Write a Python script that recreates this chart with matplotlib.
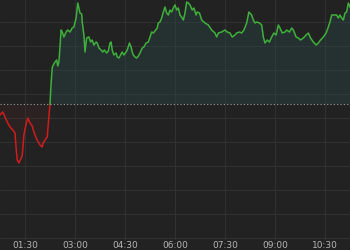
import numpy as np
import matplotlib
matplotlib.use("Agg")
import matplotlib.pyplot as plt

# minutes since midnight, index level
minutes = [45, 50, 58, 63, 68, 72, 74, 76, 79, 83, 85, 88, 92, 95, 99, 103, 106, 110, 113, 117,
           121, 122, 126, 130, 131, 133, 135,
           137, 139, 140, 144, 147, 149, 151, 153, 155, 157, 160, 164, 167, 171, 175, 178, 182, 185,
           189, 192, 193, 196, 198, 201, 205, 208, 211, 214, 218, 220, 223, 227, 230, 233, 237, 240,
           243, 245, 247, 250, 254, 256, 259, 262, 265, 268, 272, 274, 278, 281, 283, 285, 288, 291,
           294, 297, 301, 304, 308, 312, 315, 318, 321, 324, 328, 330, 333, 336, 339, 342, 345, 348,
           351, 354, 357, 360, 363, 366, 369, 373, 375, 378, 381, 384, 387, 391, 394, 398, 400, 404,
           408, 414, 420, 426, 432, 435, 438, 444, 450, 454, 459, 463, 468, 471, 476, 480, 484, 489,
           493, 498, 501, 504, 507, 512, 516, 519, 522, 526, 530, 534, 538, 542, 546, 549, 553, 558,
           561, 566, 570, 573, 578, 582, 586, 591, 596, 600, 604, 609, 614, 618, 622, 627, 632, 636,
           639, 642, 646, 651, 654, 657, 660, 663, 666, 669, 672, 675]
levels = [4885, 4888, 4878, 4873, 4870, 4867, 4852, 4840, 4837, 4842, 4844, 4865, 4876, 4882, 4877,
          4874, 4868, 4862, 4859, 4855, 4853, 4856, 4860, 4863, 4870, 4883, 4896,
          4917, 4932, 4934, 4938, 4940, 4934, 4938, 4953, 4970, 4968, 4963, 4968, 4970, 4968, 4972,
          4973, 4982, 4997, 4987, 4986, 4978, 4965, 4948, 4962, 4963, 4958, 4960, 4955, 4958, 4957,
          4952, 4950, 4948, 4950, 4947, 4949, 4957, 4958, 4950, 4945, 4947, 4943, 4942, 4945, 4948,
          4945, 4948, 4950, 4957, 4953, 4948, 4945, 4943, 4942, 4944, 4947, 4952, 4953, 4957, 4958,
          4963, 4968, 4967, 4969, 4972, 4977, 4978, 4982, 4988, 4993, 4987, 4985, 4990, 4988, 4992,
          4995, 4990, 4992, 4985, 4982, 4980, 4987, 4998, 4997, 4995, 4990, 4992, 4985, 4988, 4987,
          4980, 4977, 4975, 4970, 4967, 4963, 4967, 4968, 4970, 4968, 4967, 4963, 4965, 4967, 4968,
          4967, 4970, 4977, 4988, 4985, 4980, 4977, 4978, 4977, 4975, 4963, 4957, 4960, 4958, 4963,
          4967, 4965, 4975, 4972, 4967, 4968, 4970, 4968, 4972, 4970, 4963, 4962, 4960, 4962, 4965,
          4967, 4962, 4958, 4955, 4957, 4960, 4963, 4967, 4973, 4978, 4985, 4985, 4985, 4982, 4985,
          4982, 4980, 4987, 4988, 4997, 4993]
prev_close = 4896
tick_minutes = [90, 180, 270, 360, 450, 540, 630]
tick_labels = ["01:30", "03:00", "04:30", "06:00", "07:30", "09:00", "10:30"]

t = np.array(minutes)
v = np.array(levels)
down = t <= 135
up = t >= 135

fig = plt.figure(figsize=(3.5, 2.5), dpi=100, facecolor="#222222")
ax = fig.add_axes([0, 0.04, 1, 0.96])
ax.set_facecolor("#222222")

ax.fill_between(t[up], v[up], prev_close, color="#2a4a4a", alpha=0.4, lw=0)
ax.fill_between(t[down], v[down], prev_close, color="#4a2424", alpha=0.25, lw=0)
ax.plot(t[down], v[down], color="#d01c1c", lw=1.1)
ax.plot(t[up], v[up], color="#3fb03b", lw=1.1)
ax.axhline(prev_close, color="#9a9a9a", lw=0.8, dashes=(1, 2))

ax.set_xlim(45, 675)
ax.set_ylim(4760, 5000)
ax.set_xticks(tick_minutes)
ax.set_xticklabels(tick_labels)
ax.set_yticks(np.arange(4762, 5000, 24))
ax.grid(True, color="#343434", lw=0.6)
ax.set_axisbelow(True)
ax.tick_params(axis="x", length=0, pad=1, labelsize=6.5, labelcolor="#b5b5b5")
ax.tick_params(axis="y", length=0, labelleft=False)
for s in ax.spines.values():
    s.set_visible(False)

fig.savefig("out.png", dpi=100, facecolor=fig.get_facecolor())
